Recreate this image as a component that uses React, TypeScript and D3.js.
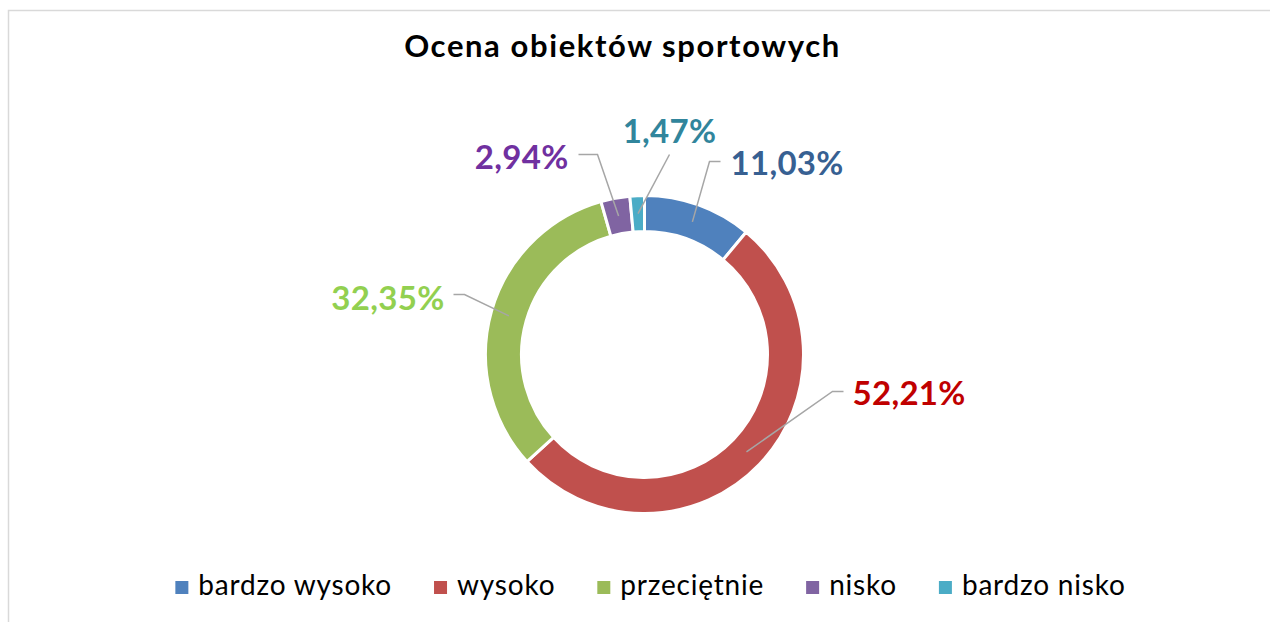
import React, { useEffect, useRef } from "react";
import * as d3 from "d3";

const categories = ["bardzo wysoko", "wysoko", "przeciętnie", "nisko", "bardzo nisko"];
const values = [11.03, 52.21, 32.35, 2.94, 1.47];
const labels = ["11,03%", "52,21%", "32,35%", "2,94%", "1,47%"];
const title = "Ocena obiektów sportowych";

const sliceColors = ["#4F81BD", "#C0504D", "#9BBB59", "#8064A2", "#4BACC6"];
const labelColors = ["#376092", "#C00000", "#92D050", "#7030A0", "#31859C"];

// label layout (relative to donut centre): elbow point, line end, text anchor position
const labelLayout = [
  { elbow: [65, -193], end: [76, -193], text: [86, -180], anchor: "start" },
  { elbow: [188, 37], end: [199, 37], text: [208, 50], anchor: "start" },
  { elbow: [-180, -60], end: [-191, -60], text: [-200, -45], anchor: "end" },
  { elbow: [-47, -200], end: [-66, -200], text: [-76, -186], anchor: "end" },
  { elbow: [25, -200], end: [25, -200], text: [25, -212], anchor: "middle" },
];

const W = 1270;
const H = 622;
const cx = 644.5;
const cy = 354.5;
const outerR = 159;
const innerR = 123;

export default function App() {
  const ref = useRef<SVGSVGElement>(null);

  useEffect(() => {
    const svg = d3.select(ref.current);
    svg.selectAll("*").remove();

    svg
      .append("rect")
      .attr("x", 8.5)
      .attr("y", 10.5)
      .attr("width", 1400)
      .attr("height", 800)
      .attr("fill", "#fff")
      .attr("stroke", "#D9D9D9")
      .attr("stroke-width", 1.5);

    svg
      .append("text")
      .attr("x", 622.5)
      .attr("y", 57)
      .attr("text-anchor", "middle")
      .attr("font-family", "Lato, 'Open Sans', sans-serif")
      .attr("font-weight", "bold")
      .attr("font-size", 31)
      .attr("letter-spacing", 1.6)
      .attr("fill", "#000")
      .text(title);

    const pie = d3.pie<number>().sort(null).value((d) => d);
    const arcs = pie(values);
    const arc = d3.arc<d3.PieArcDatum<number>>().innerRadius(innerR).outerRadius(outerR);
    const g = svg.append("g").attr("transform", `translate(${cx},${cy})`);

    g.selectAll("path.slice")
      .data(arcs)
      .enter()
      .append("path")
      .attr("class", "slice")
      .attr("d", arc)
      .attr("fill", (_, i) => sliceColors[i])
      .attr("stroke", "#fff")
      .attr("stroke-width", 3);

    arcs.forEach((a, i) => {
      const c = arc.centroid(a);
      const L = labelLayout[i];
      const pts: [number, number][] = [c as [number, number], L.elbow as [number, number], L.end as [number, number]];
      g.append("path")
        .attr("d", d3.line()(pts))
        .attr("fill", "none")
        .attr("stroke", "#A6A6A6")
        .attr("stroke-width", 1.5);
      g.append("text")
        .attr("x", L.text[0])
        .attr("y", L.text[1])
        .attr("text-anchor", L.anchor)
        .attr("font-family", "Lato, 'Open Sans', sans-serif")
        .attr("font-weight", "bold")
        .attr("font-size", 33)
        .attr("letter-spacing", 0.3)
        .attr("fill", labelColors[i])
        .text(labels[i]);
    });

    // legend
    const lg = svg.append("g");
    const items = categories.map((cat, i) => {
      const it = lg.append("g");
      it.append("rect")
        .attr("x", 0)
        .attr("y", -14)
        .attr("width", 13)
        .attr("height", 13)
        .attr("fill", sliceColors[i]);
      const t = it
        .append("text")
        .attr("x", 23)
        .attr("y", 0)
        .attr("font-family", "Lato, 'Open Sans', sans-serif")
        .attr("font-size", 28)
        .attr("letter-spacing", 0.8)
        .attr("fill", "#000")
        .text(cat);
      const w = (t.node() as SVGTextElement).getComputedTextLength();
      return { it, w: 23 + w };
    });
    const gap = 42;
    const total = items.reduce((s, d) => s + d.w, 0) + gap * (items.length - 1);
    let x = 650.5 - total / 2;
    items.forEach((d) => {
      d.it.attr("transform", `translate(${x},595)`);
      x += d.w + gap;
    });
  }, []);

  return (
    <svg
      ref={ref}
      width={W}
      height={H}
      style={{ position: "absolute", left: 0, top: 0, background: "#fff" }}
    />
  );
}
